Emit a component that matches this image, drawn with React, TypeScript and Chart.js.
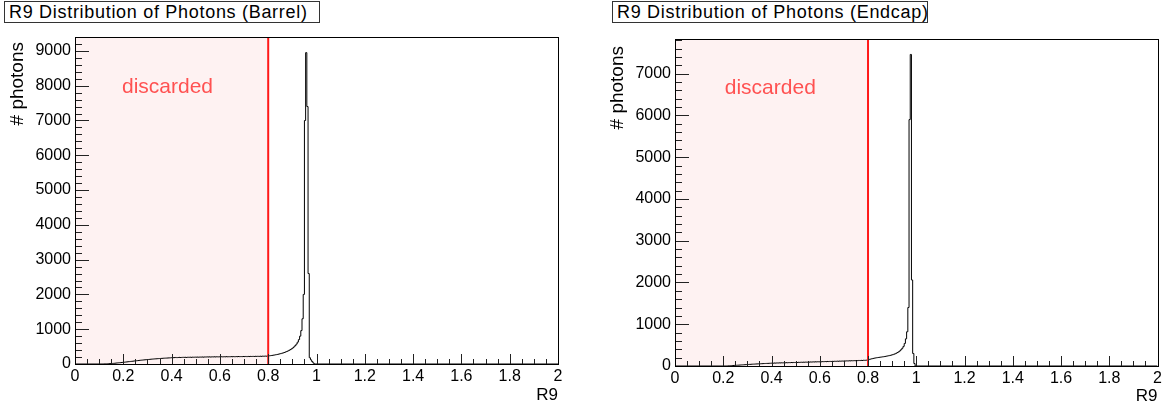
import React, { useEffect, useRef } from 'react';
import { Chart, registerables } from 'chart.js';

Chart.register(...registerables);

// ---------------- data ----------------
const BIN_WIDTH = 0.005;
const X_MIN = 0;
const X_MAX = 2;
const X_TICK_STEP = 0.2;
const X_MINOR_STEP = 0.05;
const Y_TICK_STEP = 1000;
const Y_MINOR_STEP = 200;
const CUT_VALUE = 0.8;

const xTickValues = [0, 0.2, 0.4, 0.6, 0.8, 1, 1.2, 1.4, 1.6, 1.8, 2];
const barrelYTicks = [0, 1000, 2000, 3000, 4000, 5000, 6000, 7000, 8000, 9000];
const endcapYTicks = [0, 1000, 2000, 3000, 4000, 5000, 6000, 7000];

const panelTitles = ['R9 Distribution of Photons (Barrel)', 'R9 Distribution of Photons (Endcap)'];
const xAxisTitle = 'R9';
const yAxisTitle = '# photons';
const cutLabel = 'discarded';

// Barrel: counts per 0.005 bin, first bin starts at 0.12
const barrelStart = 0.12;
const barrelCounts = [
  2, 4, 5, 8, 10, 12,
  14, 17, 20, 24, 28, 31, 35, 38, 42, 46,
  50, 55, 58, 62, 67, 70, 75, 79, 83, 88,
  92, 96, 100, 104, 108, 112, 115, 119, 122, 126,
  129, 132, 136, 139, 142, 145, 148, 150, 153, 156,
  158, 161, 163, 166, 168, 170, 172, 174, 176, 178,
  185, 182, 184, 188, 183, 187, 190, 186, 189, 192,
  190, 193, 188, 195, 192, 196, 191, 197, 194, 198,
  196, 199, 195, 201, 198, 202, 197, 203, 200, 204,
  201, 205, 199, 206, 203, 207, 202, 208, 204, 207,
  205, 209, 204, 210, 206, 211, 207, 210, 208, 212,
  209, 213, 208, 214, 210, 215, 211, 214, 212, 216,
  213, 217, 212, 218, 214, 219, 215, 220, 216, 221,
  218, 222, 217, 224, 220, 226, 222, 228, 225, 230,
  234, 238, 243, 248, 254, 260, 267, 274, 282, 290,
  299, 309, 320, 332, 345, 360, 376, 394, 414, 437,
  462, 492, 528, 572, 628, 700, 800, 960, 1300, 2000,
  7000, 8950, 7400, 2600, 180, 120, 70, 30,
];
const barrelYMax = 9400;

// Endcap: counts per 0.005 bin, first bin starts at 0.22
const endcapStart = 0.22;
const endcapCounts = [
  3, 5, 8, 10, 12, 14,
  16, 18, 20, 22, 24, 26, 28, 30, 32, 34,
  36, 38, 40, 42, 44, 45, 47, 49, 50, 52,
  53, 55, 56, 58, 59, 61, 62, 63, 65, 66,
  70, 67, 72, 69, 74, 71, 75, 73, 77, 74,
  78, 76, 80, 77, 82, 79, 84, 81, 85, 83,
  87, 84, 89, 86, 91, 88, 92, 90, 94, 91,
  95, 93, 97, 94, 99, 96, 100, 98, 102, 99,
  104, 101, 106, 103, 108, 104, 109, 106, 111, 108,
  112, 110, 114, 111, 116, 113, 118, 115, 120, 117,
  121, 119, 123, 120, 125, 122, 127, 124, 129, 126,
  131, 128, 133, 130, 135, 132, 138, 135, 140, 138,
  150, 160, 168, 175, 182, 188, 194, 199, 204, 208,
  212, 216, 220, 225, 230, 236, 242, 248, 255, 262,
  270, 280, 292, 306, 322, 340, 362, 390, 425, 470,
  540, 650, 820, 1400, 5900, 7460, 2060, 300, 60,
];
const endcapYMax = 7830;

// ---------------- layout / style ----------------
const FONT = '"Liberation Sans", Arial, Helvetica, sans-serif';
const PAGE_W = 1165;
const PAGE_H = 408;

const panels = [
  {
    key: 'barrel',
    title: panelTitles[0],
    start: barrelStart,
    counts: barrelCounts,
    yMax: barrelYMax,
    yTicks: barrelYTicks,
    canvasLeft: 0,
    canvasWidth: 582,
    frame: { left: 75, right: 558, top: 37, bottom: 364 },
    titleBox: { left: 4, width: 316 },
    yTitleX: 23,
    yTitleTop: 5,
    cutTextX: 0.383,
    cutTextDy: 56,
    xTitleBaseline: 400,
  },
  {
    key: 'endcap',
    title: panelTitles[1],
    start: endcapStart,
    counts: endcapCounts,
    yMax: endcapYMax,
    yTicks: endcapYTicks,
    canvasLeft: 582,
    canvasWidth: 583,
    frame: { left: 93, right: 577, top: 39, bottom: 366 },
    titleBox: { left: 612, width: 316 },
    yTitleX: 41,
    yTitleTop: 7,
    cutTextX: 0.395,
    cutTextDy: 55,
    xTitleBaseline: 401,
  },
];

function histPoints(start: number, counts: number[]) {
  const pts: { x: number; y: number }[] = [{ x: X_MIN, y: 0 }];
  counts.forEach((c, i) => pts.push({ x: start + i * BIN_WIDTH, y: c }));
  pts.push({ x: start + counts.length * BIN_WIDTH, y: 0 });
  pts.push({ x: X_MAX, y: 0 });
  return pts;
}

function fmtX(v: number) {
  return String(Number(Number(v).toFixed(1)));
}

function Panel(p: any) {
  const ref = useRef<HTMLCanvasElement | null>(null);

  useEffect(() => {
    const canvas = ref.current;
    if (!canvas) return;
    const H = PAGE_H;
    const W = p.canvasWidth;
    const fr = p.frame;

    const decor = {
      id: 'rootDecor',
      beforeDatasetsDraw(chart: any) {
        const { ctx, chartArea } = chart;
        const xs = chart.scales.x;
        const x0 = xs.getPixelForValue(X_MIN);
        const x1 = xs.getPixelForValue(CUT_VALUE);
        ctx.save();
        ctx.fillStyle = 'rgb(254,242,242)';
        ctx.fillRect(x0, chartArea.top, x1 - x0, chartArea.bottom - chartArea.top);
        ctx.restore();
      },
      afterDatasetsDraw(chart: any) {
        const { ctx, chartArea } = chart;
        const xs = chart.scales.x;
        const ys = chart.scales.y;
        const { left, right, top, bottom } = chartArea;
        ctx.save();
        // cut line
        const xc = xs.getPixelForValue(CUT_VALUE);
        ctx.strokeStyle = 'rgb(255,25,25)';
        ctx.lineWidth = 2;
        ctx.beginPath();
        ctx.moveTo(xc, top);
        ctx.lineTo(xc, bottom);
        ctx.stroke();

        // discarded label
        ctx.fillStyle = 'rgba(255,40,40,0.8)';
        ctx.font = `21px ${FONT}`;
        ctx.textAlign = 'center';
        ctx.textBaseline = 'alphabetic';
        ctx.fillText(cutLabel, xs.getPixelForValue(p.cutTextX), top + p.cutTextDy);

        // tick marks (inside frame)
        ctx.strokeStyle = '#222';
        ctx.lineWidth = 1;
        ctx.beginPath();
        const nx = Math.round((X_MAX - X_MIN) / X_MINOR_STEP);
        const perMajor = Math.round(X_TICK_STEP / X_MINOR_STEP);
        for (let i = 0; i <= nx; i++) {
          const v = X_MIN + i * X_MINOR_STEP;
          const px = Math.round(xs.getPixelForValue(v)) + 0.5;
          const len = i % perMajor === 0 ? 10 : 5;
          ctx.moveTo(px, bottom);
          ctx.lineTo(px, bottom - len);
        }
        const ny = Math.floor(p.yMax / Y_MINOR_STEP);
        const perMajorY = Math.round(Y_TICK_STEP / Y_MINOR_STEP);
        for (let i = 0; i <= ny; i++) {
          const v = i * Y_MINOR_STEP;
          const py = Math.round(ys.getPixelForValue(v)) + 0.5;
          const len = i % perMajorY === 0 ? 14 : 7;
          ctx.moveTo(left, py);
          ctx.lineTo(left + len, py);
        }
        ctx.stroke();

        // frame
        ctx.strokeStyle = '#000';
        ctx.lineWidth = 1;
        ctx.strokeRect(Math.round(left) + 0.5, Math.round(top) + 0.5, Math.round(right - left), Math.round(bottom - top));

        // axis titles
        ctx.fillStyle = '#000';
        ctx.font = `17px ${FONT}`;
        ctx.textAlign = 'right';
        ctx.textBaseline = 'alphabetic';
        ctx.fillText(xAxisTitle, right, p.xTitleBaseline);

        ctx.save();
        ctx.translate(p.yTitleX, top + p.yTitleTop);
        ctx.rotate(-Math.PI / 2);
        ctx.font = `19px ${FONT}`;
        ctx.textAlign = 'right';
        ctx.textBaseline = 'alphabetic';
        ctx.fillText(yAxisTitle, 0, 0);
        ctx.restore();

        ctx.restore();
      },
    };

    const chart = new Chart(canvas, {
      type: 'line',
      data: {
        datasets: [
          {
            data: histPoints(p.start, p.counts),
            stepped: true,
            borderColor: '#000',
            borderWidth: 1,
            pointRadius: 0,
            fill: false,
            tension: 0,
          },
        ],
      },
      options: {
        animation: false,
        responsive: false,
        maintainAspectRatio: false,
        devicePixelRatio: 1,
        parsing: false,
        layout: { padding: { left: 0, top: fr.top, right: W - fr.right, bottom: 0 } },
        plugins: {
          legend: { display: false },
          tooltip: { enabled: false },
          title: { display: false },
        },
        scales: {
          x: {
            type: 'linear',
            min: X_MIN,
            max: X_MAX,
            grid: { display: false, drawTicks: false },
            border: { display: false },
            afterBuildTicks: (s: any) => {
              s.ticks = xTickValues.map((v) => ({ value: v }));
            },
            ticks: {
              autoSkip: false,
              maxRotation: 0,
              padding: 3,
              color: '#000',
              font: { family: FONT, size: 16 },
              callback: (v: any) => fmtX(v),
            },
            afterFit: (s: any) => {
              s.height = H - fr.bottom;
            },
          },
          y: {
            type: 'linear',
            min: 0,
            max: p.yMax,
            grid: { display: false, drawTicks: false },
            border: { display: false },
            afterBuildTicks: (s: any) => {
              s.ticks = p.yTicks.map((v: number) => ({ value: v }));
            },
            ticks: {
              autoSkip: false,
              padding: 4,
              color: '#000',
              font: { family: FONT, size: 16 },
              callback: (v: any) => String(v),
            },
            afterFit: (s: any) => {
              s.width = fr.left;
            },
          },
        },
      },
      plugins: [decor],
    } as any);

    return () => chart.destroy();
  }, []);

  return (
    <>
      <canvas
        ref={ref}
        width={p.canvasWidth}
        height={PAGE_H}
        style={{ position: 'absolute', left: p.canvasLeft, top: 0, width: p.canvasWidth, height: PAGE_H }}
      />
      <div
        style={{
          position: 'absolute',
          left: p.titleBox.left,
          top: 1,
          width: p.titleBox.width,
          height: 22,
          boxSizing: 'border-box',
          border: '1px solid #333',
          fontFamily: FONT,
          fontSize: 18,
          letterSpacing: '0.7px',
          lineHeight: '20px',
          paddingLeft: 4,
          whiteSpace: 'nowrap',
          color: '#000',
          background: '#fff',
          overflow: 'hidden',
        }}
      >
        {p.title}
      </div>
    </>
  );
}

export default function App() {
  return (
    <div style={{ position: 'absolute', left: 0, top: 0, width: PAGE_W, height: PAGE_H, background: '#fff' }}>
      {panels.map((p) => (
        <Panel key={p.key} {...p} />
      ))}
    </div>
  );
}
